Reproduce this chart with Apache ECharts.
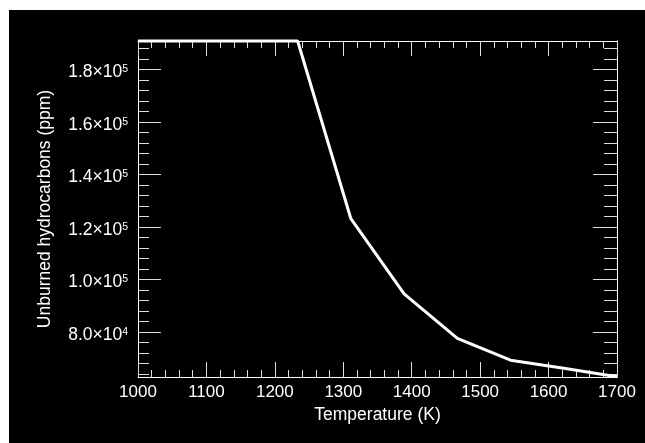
<!DOCTYPE html>
<html>
<head>
<meta charset="utf-8">
<script src="https://cdn.jsdelivr.net/npm/echarts@6/dist/echarts.min.js"></script>
<style>
  html, body { margin: 0; padding: 0; background: #fff; }
  #chart { position: absolute; left: 9px; top: 10px; width: 636px; height: 433px; background: #000; }
</style>
</head>
<body>
<div id="chart"></div>
<script>
// temperature (K) and unburned hydrocarbons (ppm)
var temps = [1000, 1077.8, 1155.6, 1233.3, 1311.1, 1388.9, 1466.7, 1544.4, 1622.2, 1700];
var hc = [190900, 190900, 190900, 190900, 123200, 94600, 77600, 69300, 66250, 63000];
var yMajor = [80000, 100000, 120000, 140000, 160000, 180000];
var xTicks = [1000, 1100, 1200, 1300, 1400, 1500, 1600, 1700];

var yMin = 62900, yMax = 190900;
var yMinor = [];
for (var v = 64000; v < yMax; v += 4000) {
  if (yMajor.indexOf(v) < 0) yMinor.push(v);
}

var fg = '#fff';
var tickCol = '#ddd';
var font = 'Liberation Sans, Arial, sans-serif';

function sciLabel(val) {
  var e = Math.floor(Math.log10(val));
  var m = (val / Math.pow(10, e)).toFixed(1);
  return '{m|' + m + '×10}{e|' + e + '}';
}

function yAxisDef(pos, major, len, labels) {
  return {
    type: 'value', position: pos, min: yMin, max: yMax,
    axisLine: { show: true, lineStyle: { color: fg, width: 1 } },
    splitLine: { show: false },
    axisTick: { show: true, inside: true, length: len, customValues: major, lineStyle: { color: tickCol } },
    axisLabel: labels ? {
      show: true, margin: 10, customValues: yMajor, formatter: sciLabel,
      padding: [6, 0, 0, 0],
      rich: {
        m: { fontSize: 17.5, color: fg, fontFamily: font },
        e: { fontSize: 10.5, color: fg, fontFamily: font, verticalAlign: 'top' }
      }
    } : { show: false }
  };
}

var chart = echarts.init(document.getElementById('chart'));
var option = {
  backgroundColor: '#000',
  animation: false,
  grid: { left: 129, top: 31, right: 28, bottom: 66 },
  xAxis: [
    {
      type: 'value', position: 'bottom', min: 1000, max: 1700, interval: 100,
      name: 'Temperature (K)', nameLocation: 'middle', nameGap: 28,
      nameTextStyle: { color: fg, fontSize: 17.5, fontFamily: font },
      axisLine: { show: true, lineStyle: { color: fg, width: 1 } },
      splitLine: { show: false },
      axisTick: { show: true, inside: true, length: 15, lineStyle: { color: tickCol } },
      minorTick: { show: true, splitNumber: 5, length: 7, lineStyle: { color: tickCol } },
      axisLabel: { color: fg, fontSize: 17, fontFamily: font, margin: 7,
        customValues: xTicks, formatter: function (v) { return String(v); } }
    },
    {
      type: 'value', position: 'top', min: 1000, max: 1700, interval: 100,
      axisLine: { show: true, lineStyle: { color: fg, width: 1 } },
      splitLine: { show: false },
      axisTick: { show: true, inside: true, length: 15, lineStyle: { color: tickCol } },
      minorTick: { show: true, splitNumber: 5, length: 7, lineStyle: { color: tickCol } },
      axisLabel: { show: false }
    }
  ],
  yAxis: [
    Object.assign(yAxisDef('left', yMajor, 23, true), {
      name: 'Unburned hydrocarbons (ppm)', nameLocation: 'middle', nameGap: 84,
      nameTextStyle: { color: fg, fontSize: 17.5, fontFamily: font }
    }),
    yAxisDef('left', yMinor, 11, false),
    yAxisDef('right', yMajor, 24, false),
    yAxisDef('right', yMinor, 13, false)
  ],
  series: [
    {
      type: 'line',
      xAxisIndex: 0, yAxisIndex: 0,
      data: temps.map(function (t, i) { return [t, hc[i]]; }),
      showSymbol: false,
      clip: false,
      lineStyle: { color: '#fff', width: 3 }
    }
  ]
};
chart.setOption(option);
</script>
</body>
</html>
